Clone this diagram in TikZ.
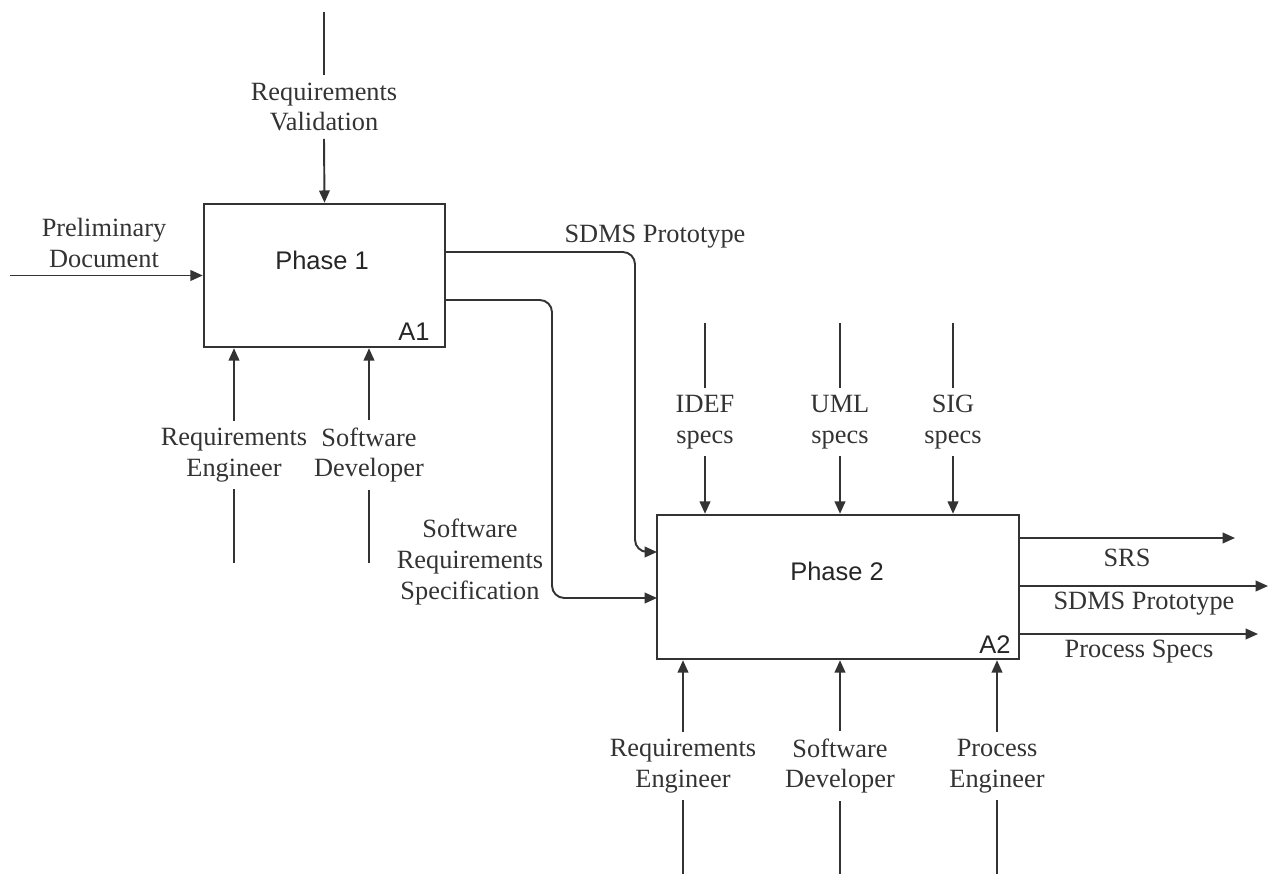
\documentclass[tikz,border=0pt]{standalone}
\usepackage{fontspec}
\setmainfont{Liberation Serif}
\newfontfamily\boxfont{Liberation Sans}
\usetikzlibrary{arrows.meta, calc, positioning}

\begin{document}
\begin{tikzpicture}[x=0.02cm, y=-0.02cm]
    \tikzstyle{phase} = [rectangle, draw=black!80, line width=1.4pt, minimum width=4.82cm,
                         minimum height=2.86cm, inner sep=0pt]
    \tikzstyle{lbl}   = [align=center, inner sep=4pt, text=black!80,
                         font=\fontsize{15pt}{17.6pt}\selectfont]
    \tikzstyle{ptxt}  = [text=black!85, font=\boxfont\fontsize{14.5pt}{17pt}\selectfont]
    \tikzstyle{flow}  = [-{Triangle[length=7pt,width=6pt]}, line width=1.1pt, draw=black!80]
    \tikzstyle{wire}  = [line width=1.1pt, draw=black!80]

    \useasboundingbox (0,0) rectangle (1270,874);

    % boxes
    \node (a1) [phase] at (324.5,275.5) {};
    \node (a2) [phase, minimum width=7.24cm, minimum height=2.88cm] at (838,587) {};
    \node (a1t) [ptxt] at (322,260) {Phase 1};
    \node (a2t) [ptxt] at (837,571) {Phase 2};
    \node (a1n) [ptxt] at (414,332) {A1};
    \node (a2n) [ptxt] at (995,645) {A2};

    % Phase 1: control, input, mechanisms
    \coordinate (c1) at (324,12);
    \node (rv) [lbl] at (324,107) {Requirements\\Validation};
    \draw [wire] (c1) -- (rv.north);
    \draw [flow] (rv.south) -- (a1.north);

    \coordinate (in1) at (10,275.5);
    \node (pd) [lbl] at (104,243) {Preliminary\\Document};
    \draw [flow] (in1) -- (a1.west);

    \coordinate (m1) at (234,563);
    \coordinate (m2) at (369,563);
    \node (re1) [lbl] at (234,455) {Requirements\\Engineer};
    \node (sd1) [lbl] at (369,455) {Software\\Developer};
    \draw [wire] (m1) -- (re1.south);
    \draw [flow] (re1.north) -- (re1.north |- a1.south);
    \draw [wire] (m2) -- (sd1.south);
    \draw [flow] (sd1.north) -- (sd1.north |- a1.south);

    % Phase 1 outputs into Phase 2
    \coordinate (o1) at (445,252);
    \coordinate (o2) at (445,300);
    \coordinate (i1) at (657,552);
    \coordinate (i2) at (657,598);
    \draw [flow, rounded corners=7pt] (o1) -| (635,552) -- (i1);
    \draw [flow, rounded corners=7pt] (o2) -| (552,598) -- (i2);
    \node (proto1) [lbl] at (655,237) {SDMS Prototype};
    \node (srs1)   [lbl] at (470,562) {Software\\Requirements\\Specification};

    % Phase 2: controls
    \foreach \x/\n/\t in {705/idef/IDEF, 840/uml/UML, 953/sig/SIG} {
        \coordinate (\n c) at (\x,323);
        \node (\n) [lbl] at (\x,422) {\t\\specs};
        \draw [wire] (\n c) -- (\n.north);
        \draw [flow] (\n.south) -- (\n.south |- a2.north);
    }

    % Phase 2: mechanisms
    \foreach \x/\n/\t in {683/re2/{Requirements\\Engineer}, 840/sd2/{Software\\Developer},
                          997/pe2/{Process\\Engineer}} {
        \coordinate (\n m) at (\x,874);
        \node (\n) [lbl] at (\x,766) {\t};
        \draw [wire] (\n m) -- (\n.south);
        \draw [flow] (\n.north) -- (\n.north |- a2.south);
    }

    % Phase 2: outputs
    \coordinate (s1) at (1019,538);
    \coordinate (s2) at (1019,586);
    \coordinate (s3) at (1019,634);
    \coordinate (e1) at (1235,538);
    \coordinate (e2) at (1268,586);
    \coordinate (e3) at (1258,634);
    \draw [flow] (s1) -- (e1);
    \draw [flow] (s2) -- (e2);
    \draw [flow] (s3) -- (e3);
    \node (srs)    [lbl] at (1127,558) {SRS};
    \node (proto2) [lbl] at (1144,604) {SDMS Prototype};
    \node (pspec)  [lbl] at (1139,652) {Process Specs};
\end{tikzpicture}
\end{document}
